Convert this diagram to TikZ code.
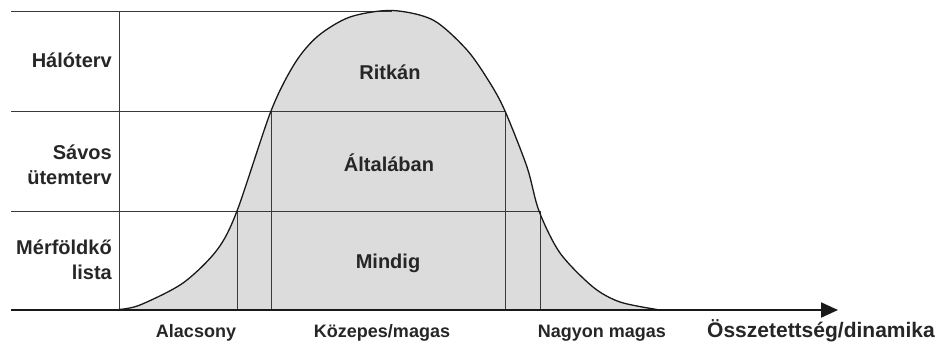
\documentclass[tikz,border=0pt]{standalone}
\usepackage{fontspec}
\setmainfont{Liberation Sans}
\usetikzlibrary{arrows.meta}
\definecolor{areagray}{HTML}{DCDCDC}
\definecolor{gridline}{HTML}{3A3A3A}
\begin{document}
\begin{tikzpicture}[x=1pt,y=-1pt,
  grid/.style={draw=gridline,line width=1pt},
  curve/.style={draw=black!90,line width=1.3pt},
  axis/.style={draw=black!90,line width=2pt},
  lefttxt/.style={anchor=east,align=right,font=\bfseries\fontsize{20}{25}\selectfont,text=black!85,inner sep=0pt},
  midtxt/.style={anchor=center,font=\bfseries\fontsize{20}{24}\selectfont,text=black!85,inner sep=0pt},
  bottxt/.style={anchor=center,font=\bfseries\fontsize{18}{22}\selectfont,text=black!85,inner sep=0pt},
  axtxt/.style={anchor=center,font=\bfseries\fontsize{21}{25}\selectfont,text=black!85,inner sep=0pt}]
\useasboundingbox (0,0) rectangle (941,343);
% filled bell curve
\fill[areagray] plot[smooth,tension=0.5] coordinates {(119,309.5) (140,305) (183,283) (217,250) (237,211) (271,111) (295,63) (318,36) (350,17) (392,10.5) (433,20) (467,50) (490,83) (505,111) (527,167) (539,211) (560,253) (593,287) (620,302) (657,309.5)} -- cycle;
% grid lines
\draw[grid] (11,11) -- (392,11);
\draw[grid] (11,111) -- (505,111);
\draw[grid] (11,211) -- (539,211);
\draw[grid] (119,11) -- (119,310);
\draw[grid] (237,211) -- (237,310);
\draw[grid] (271,111) -- (271,310);
\draw[grid] (505,111) -- (505,310);
\draw[grid] (540,211) -- (540,310);
% curve
\draw[curve] plot[smooth,tension=0.5] coordinates {(119,309.5) (140,305) (183,283) (217,250) (237,211) (271,111) (295,63) (318,36) (350,17) (392,10.5) (433,20) (467,50) (490,83) (505,111) (527,167) (539,211) (560,253) (593,287) (620,302) (657,309.5)};
% axis
\coordinate (axstart) at (11,310);
\coordinate (axend) at (838,310);
\draw[axis,-{Triangle[length=17pt,width=15pt]}] (axstart) -- (axend);
% labels
\node[lefttxt] (halo) at (112,60) {Hálóterv};
\node[lefttxt] (savos) at (112,165) {Sávos\\ütemterv};
\node[lefttxt] (merf) at (112,260) {Mérföldkő\\lista};
\node[midtxt] (ritkan) at (390,72) {Ritkán};
\node[midtxt] (altal) at (389,163) {Általában};
\node[midtxt] (mindig) at (388,263) {Mindig};
\node[bottxt] (alacs) at (196,333) {Alacsony};
\node[bottxt] (kozep) at (382,333) {Közepes/magas};
\node[bottxt] (nagy) at (602,333) {Nagyon magas};
\node[axtxt] (ossz) at (821,331) {Összetettség/dinamika};
\end{tikzpicture}
\end{document}
